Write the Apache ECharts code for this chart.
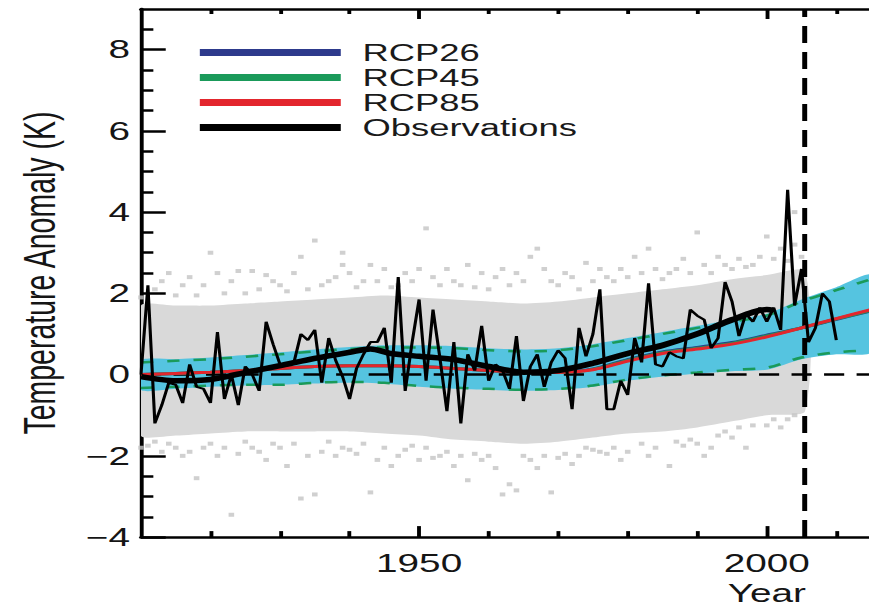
<!DOCTYPE html>
<html><head><meta charset="utf-8">
<script src="https://cdn.jsdelivr.net/npm/echarts@6/dist/echarts.min.js"></script>
<style>
html,body{margin:0;padding:0;background:#fff;overflow:hidden}
#wrap{width:869px;height:611px;overflow:hidden;position:relative;background:#fff}
#chart{width:620px;height:611px;transform:scaleX(1.549);transform-origin:0 0}
</style></head><body>
<div id="wrap"><div id="chart"></div></div>
<script>
// ---- axes ----
const X_MIN = 1910, X_MAX = 2014.7, Y_MIN = -4, Y_MAX = 9;
const xMajorTicks = [1950, 2000];
const xMinorTicks = [1920, 1930, 1940, 1960, 1970, 1980, 1990, 2010];
const yMajorTicks = [-4, -2, 0, 2, 4, 6, 8];
const yMinorTicks = [-3.5, -3, -2.5, -1.5, -1, -0.5, 0.5, 1, 1.5, 2.5, 3, 3.5, 4.5, 5, 5.5, 6.5, 7, 7.5, 8.5];
const zeroLineY = 0;
const scenarioStartYear = 2005.5;

// ---- observations (annual) ----
const obsStartYear = 1910;
const obsValues = [
  0.0, 2.2, -1.2, -0.75, -0.2, -0.25, -0.7, 0.25, -0.3, -0.35,
  -0.7, 1.05, -0.6, 0.0, -0.75, 0.2, 0.0, -0.4, 1.3, 0.75,
  0.25, 0.22, 0.3, 1.0, 0.85, 1.1, -0.2, 0.9, 0.35, -0.05,
  -0.6, 0.15, 0.5, 0.8, 0.8, 1.15, -0.2, 2.4, -0.4, 0.8,
  1.85, -0.15, 1.6, 0.4, -0.9, 0.8, -1.2, 0.5, 0.1, 1.2,
  -0.15, 0.25, 0.1, -0.35, 0.95, -0.65, 0.2, 0.5, -0.3, 0.3,
  0.6, 0.4, -0.85, 1.15, 0.45, 1.0, 2.1, -0.85, -0.85, -0.15,
  -0.5, 0.9, 0.3, 2.25, 0.25, 0.2, 0.55, 0.45, 0.4, 1.6,
  1.45, 1.35, 0.65, 0.9, 2.28, 1.8, 0.95, 1.5, 1.3, 1.65,
  1.3, 1.65, 1.1, 4.55, 1.7, 2.6, 0.8, 1.15, 2.0, 1.8,
  0.85
];

// ---- smoothed observations ----
const smoothYears = [1910, 1915, 1920, 1925, 1930, 1935, 1940, 1943, 1946, 1950, 1955, 1960, 1965, 1970, 1975, 1980, 1985, 1990, 1995, 2000, 2001];
const smoothValues = [-0.05, -0.15, -0.12, 0.05, 0.22, 0.4, 0.55, 0.63, 0.52, 0.45, 0.37, 0.2, 0.06, 0.1, 0.28, 0.52, 0.72, 1.0, 1.35, 1.6, 1.58];

// ---- model ensemble ----
const modelYears = [1910, 1915, 1920, 1925, 1930, 1935, 1940, 1945, 1950, 1955, 1960, 1965, 1970, 1975, 1980, 1985, 1990, 1995, 2000, 2005, 2010, 2015];
const rcp85Mean = [0.0, 0.03, 0.06, 0.1, 0.15, 0.2, 0.22, 0.22, 0.2, 0.15, 0.1, 0.06, 0.05, 0.12, 0.33, 0.52, 0.63, 0.75, 0.93, 1.15, 1.38, 1.6];
const rcp45Mean = [0.0, 0.03, 0.06, 0.1, 0.15, 0.2, 0.22, 0.22, 0.2, 0.15, 0.1, 0.06, 0.05, 0.13, 0.35, 0.54, 0.65, 0.77, 0.95, 1.15, 1.37, 1.58];
const rcp26Mean = [0.0, 0.03, 0.06, 0.1, 0.15, 0.2, 0.22, 0.22, 0.2, 0.15, 0.1, 0.06, 0.06, 0.14, 0.37, 0.56, 0.67, 0.79, 0.97, 1.15, 1.36, 1.57];
const spreadUpper = [0.35, 0.38, 0.42, 0.48, 0.55, 0.62, 0.68, 0.72, 0.72, 0.7, 0.65, 0.62, 0.65, 0.75, 0.9, 1.05, 1.2, 1.35, 1.5, 1.85, 2.15, 2.45];
const spreadLower = [-0.38, -0.35, -0.3, -0.27, -0.25, -0.22, -0.2, -0.22, -0.3, -0.35, -0.38, -0.4, -0.38, -0.3, -0.15, -0.05, 0.02, 0.08, 0.12, 0.38, 0.5, 0.55];
const rcp45Upper = [0.3, 0.34, 0.38, 0.44, 0.5, 0.57, 0.63, 0.67, 0.67, 0.65, 0.6, 0.57, 0.6, 0.7, 0.85, 1.0, 1.15, 1.3, 1.45, 1.8, 2.08, 2.35];
const rcp45Lower = [-0.33, -0.3, -0.27, -0.25, -0.25, -0.2, -0.18, -0.2, -0.28, -0.32, -0.35, -0.37, -0.35, -0.27, -0.12, -0.02, 0.05, 0.12, 0.17, 0.42, 0.55, 0.6];

// ---- individual model runs (dense envelope + scattered points) ----
const runsYears = [1910, 1915, 1920, 1925, 1930, 1935, 1940, 1945, 1950, 1955, 1960, 1965, 1970, 1975, 1980, 1985, 1990, 1995, 2000, 2005.5];
const runsUpper = [1.7, 1.7, 1.7, 1.75, 1.8, 1.85, 1.9, 1.95, 1.9, 1.85, 1.8, 1.75, 1.8, 1.9, 2.0, 2.1, 2.2, 2.35, 2.45, 2.55];
const runsLower = [-1.5, -1.5, -1.45, -1.4, -1.4, -1.4, -1.4, -1.45, -1.5, -1.6, -1.65, -1.7, -1.65, -1.55, -1.45, -1.4, -1.3, -1.15, -1.0, -0.9];
const runsScatter = [
  [1912, 2.1], [1914, 2.5], [1916, 2.2], [1918, 1.95], [1920, 3.0], [1921, 2.5], [1922, 2.0], [1924, 2.55], [1926, 2.55],
  [1927, 2.1], [1929, 2.3], [1931, 2.05], [1933, 2.9], [1935, 3.3], [1936, 2.2], [1938, 2.4], [1939, 3.0], [1939, 2.7],
  [1941, 2.15], [1943, 2.7], [1944, 2.3], [1946, 2.15], [1948, 2.5], [1950, 2.6], [1951, 3.6], [1953, 2.2], [1955, 2.3],
  [1957, 2.7], [1958, 2.15], [1961, 2.4], [1963, 2.2], [1964, 2.5], [1966, 2.9], [1967, 3.1], [1969, 2.3], [1971, 2.5],
  [1974, 2.75], [1975, 2.3], [1977, 2.4], [1979, 2.6], [1981, 2.9], [1983, 3.1], [1984, 2.6], [1986, 2.5], [1988, 2.85],
  [1990, 3.5], [1991, 2.7], [1993, 2.9], [1996, 2.85], [1997, 2.65], [1999, 2.9], [2000, 3.4], [2001, 2.85], [2002, 3.1],
  [2004, 4.0], [2004, 3.2], [2005, 2.9],
  [1910, 1.9], [1913, 2.3], [1915, 1.95], [1917, 2.4], [1919, 2.2], [1923, 2.3], [1925, 2.0], [1928, 2.45], [1930, 2.2],
  [1932, 2.5], [1934, 2.1], [1937, 2.3], [1940, 2.5], [1942, 2.3], [1945, 2.6], [1947, 2.2], [1949, 2.3], [1952, 2.4],
  [1954, 2.6], [1956, 2.2], [1959, 2.5], [1960, 2.1], [1962, 2.6], [1965, 2.3], [1968, 2.6], [1970, 2.2], [1972, 2.4],
  [1973, 2.1], [1976, 2.6], [1978, 2.3], [1980, 2.4], [1982, 2.5], [1985, 2.35], [1987, 2.6], [1989, 2.5], [1992, 2.5],
  [1994, 2.7], [1995, 2.6], [1998, 2.7], [2003, 2.8],
  [1911, -1.75], [1913, -1.9], [1915, -1.8], [1917, -1.9], [1918, -2.55], [1919, -1.8], [1921, -2.0], [1923, -3.45],
  [1924, -1.95], [1926, -1.8], [1928, -2.1], [1930, -1.8], [1931, -2.25], [1933, -3.05], [1935, -2.95], [1936, -1.9],
  [1938, -2.0], [1940, -1.85], [1941, -1.95], [1943, -2.9], [1944, -2.1], [1946, -2.25], [1948, -1.85], [1950, -2.1],
  [1953, -2.0], [1955, -2.25], [1957, -2.6], [1959, -2.1], [1962, -2.95], [1963, -2.7], [1964, -2.85], [1966, -2.1],
  [1967, -2.3], [1969, -2.9], [1970, -2.05], [1972, -2.2], [1975, -1.85], [1977, -1.95], [1979, -2.1], [1983, -2.0],
  [1986, -2.25], [1988, -1.75], [1991, -2.0], [1992, -1.8], [1995, -1.55], [1997, -1.8], [2000, -1.25], [2003, -1.1],
  [1910, -1.8], [1912, -1.65], [1914, -1.7], [1916, -2.0], [1920, -1.7], [1922, -1.8], [1925, -1.65], [1927, -1.9],
  [1929, -1.7], [1932, -1.7], [1934, -2.0], [1937, -1.65], [1939, -1.8], [1942, -1.7], [1945, -1.8], [1947, -2.0],
  [1949, -1.75], [1951, -1.8], [1952, -2.05], [1954, -1.9], [1956, -2.0], [1958, -1.95], [1960, -2.0], [1961, -2.3],
  [1965, -2.0], [1968, -2.0], [1971, -1.95], [1973, -2.0], [1974, -1.8], [1976, -1.9], [1978, -1.8], [1980, -1.9],
  [1982, -1.7], [1984, -1.8], [1987, -1.65], [1989, -1.6], [1990, -1.7], [1993, -1.5], [1994, -1.4], [1996, -1.3],
  [1998, -1.25], [2001, -1.1], [2002, -1.3], [2004, -1.0]
];

// ---- text ----
const legendNames = ['RCP26', 'RCP45', 'RCP85', 'Observations'];
const xTitle = 'Year';
const yTitle = 'Temperature Anomaly (K)';

// ---- colours ----
const C = { blue: '#2d3a8c', green: '#1a9a5a', red: '#e3262d', black: '#000', cyan: '#55c4e0', runs: '#d9d9d9', runsDot: '#c4c4c4' };
const FONT = "'Liberation Sans', Arial, Helvetica, sans-serif";

const pairs = (xs, ys) => xs.map((x, i) => [x, ys[i]]);
const obsData = obsValues.map((v, i) => [obsStartYear + i, v]);

function band(name, xs, lo, hi, fill, z) {
  return {
    type: 'custom', name, z, silent: true, clip: true,
    data: [[xs[0], lo[0]]],
    renderItem: function (params, api) {
      const pts = [];
      for (let i = 0; i < xs.length; i++) pts.push(api.coord([xs[i], hi[i]]));
      for (let i = xs.length - 1; i >= 0; i--) pts.push(api.coord([xs[i], lo[i]]));
      return { type: 'polygon', shape: { points: pts, smooth: 0.25 }, style: { fill: fill } };
    }
  };
}

function line(name, data, color, width, z, extra) {
  return Object.assign({
    type: 'line', name, data, z, symbol: 'none', silent: true, clip: true,
    itemStyle: { color }, lineStyle: { color, width }
  }, extra || {});
}

const axisColor = '#000';
const xBase = { type: 'value', min: X_MIN, max: X_MAX, splitLine: { show: false } };
const yBase = { type: 'value', min: Y_MIN, max: Y_MAX, splitLine: { show: false } };
const lineOn = { show: true, onZero: false, lineStyle: { color: axisColor, width: 2.5 } };
const lineOff = { show: false, onZero: false };

const option = {
  animation: false,
  backgroundColor: '#fff',
  textStyle: { fontFamily: FONT },
  grid: { left: 91, right: 59, top: 9, bottom: 68, containLabel: false },
  legend: {
    data: legendNames, orient: 'vertical', left: 129, top: 40, padding: 0,
    itemWidth: 91, itemHeight: 7, itemGap: 0, icon: 'rect',
    textStyle: { fontFamily: FONT, fontSize: 23.5, color: '#1a1a1a', lineHeight: 25, padding: [0, 0, 0, 9] },
    selectedMode: false
  },
  xAxis: [
    Object.assign({}, xBase, {
      position: 'bottom', axisLine: lineOn,
      axisTick: { show: true, inside: true, length: 11, customValues: xMajorTicks, lineStyle: { color: axisColor, width: 2.5 } },
      axisLabel: { customValues: xMajorTicks, fontSize: 25, color: '#151515', margin: 14, fontFamily: FONT,
        formatter: v => String(v) },
      name: xTitle, nameLocation: 'middle', nameGap: 41,
      nameTextStyle: { fontSize: 25, color: '#151515', fontFamily: FONT, padding: [0, 0, 0, 338] }
    }),
    Object.assign({}, xBase, {
      position: 'bottom', axisLine: lineOff,
      axisTick: { show: true, inside: true, length: 6, customValues: xMinorTicks, lineStyle: { color: axisColor, width: 2.5 } },
      axisLabel: { show: false }
    }),
    Object.assign({}, xBase, {
      position: 'top', axisLine: lineOn,
      axisTick: { show: true, inside: true, length: 10, customValues: xMajorTicks, lineStyle: { color: axisColor, width: 2.5 } },
      axisLabel: { show: false }
    }),
    Object.assign({}, xBase, {
      position: 'top', axisLine: lineOff,
      axisTick: { show: true, inside: true, length: 5, customValues: xMinorTicks, lineStyle: { color: axisColor, width: 2.5 } },
      axisLabel: { show: false }
    })
  ],
  yAxis: [
    Object.assign({}, yBase, {
      position: 'left', axisLine: lineOn,
      axisTick: { show: true, inside: true, length: 16, customValues: yMajorTicks, lineStyle: { color: axisColor, width: 2.5 } },
      axisLabel: { customValues: yMajorTicks, fontSize: 25, color: '#151515', margin: 7, fontFamily: FONT,
        formatter: v => String(v).replace('-', '\u2212') },
      name: yTitle, nameLocation: 'middle', nameGap: 51, nameRotate: 90,
      nameTextStyle: { fontSize: 28.5, color: '#151515', fontFamily: FONT }
    }),
    Object.assign({}, yBase, {
      position: 'left', axisLine: lineOff,
      axisTick: { show: true, inside: true, length: 8, customValues: yMinorTicks, lineStyle: { color: axisColor, width: 2.5 } },
      axisLabel: { show: false }
    })
  ],
  series: [
    band('Model runs envelope', runsYears, runsLower, runsUpper, C.runs, 1),
    { type: 'scatter', name: 'Model runs', data: runsScatter, z: 2, silent: true,
      symbol: 'rect', symbolSize: [3.6, 4], itemStyle: { color: C.runsDot } },
    band('Ensemble spread', modelYears, spreadLower, spreadUpper, C.cyan, 3),
    line('RCP45 upper', pairs(modelYears, rcp45Upper), C.green, 2.5, 4, { smooth: 0.3, lineStyle: { color: C.green, width: 2.5, type: [8, 9] } }),
    line('RCP45 lower', pairs(modelYears, rcp45Lower), C.green, 2.5, 4, { smooth: 0.3, lineStyle: { color: C.green, width: 2.5, type: [8, 9] } }),
    line('RCP26', pairs(modelYears, rcp26Mean), C.blue, 3, 5, { smooth: 0.3 }),
    line('RCP45', pairs(modelYears, rcp45Mean), C.green, 3, 6, { smooth: 0.3 }),
    line('RCP85', pairs(modelYears, rcp85Mean), C.red, 3, 7, { smooth: 0.3 }),
    line('Observations', obsData, C.black, 2, 8),
    line('Observations smoothed', pairs(smoothYears, smoothValues), C.black, 5.5, 9, { smooth: 0.3 }),
    { type: 'line', name: 'reference lines', data: [], z: 10, silent: true,
      markLine: {
        symbol: 'none', silent: true, label: { show: false },
        data: [
          [{ coord: [X_MIN, zeroLineY] }, { coord: [X_MAX, zeroLineY], lineStyle: { color: '#000', width: 2.5, type: [13, 8] } }],
          [{ coord: [scenarioStartYear, Y_MIN] }, { coord: [scenarioStartYear, Y_MAX], lineStyle: { color: '#000', width: 3.2, type: [17, 9] } }]
        ],
        lineStyle: { color: '#000', width: 2.5, type: [13, 8] }
      }
    }
  ]
};

const chart = echarts.init(document.getElementById('chart'), null, { renderer: 'svg' });
chart.setOption(option);
</script>
</body></html>
